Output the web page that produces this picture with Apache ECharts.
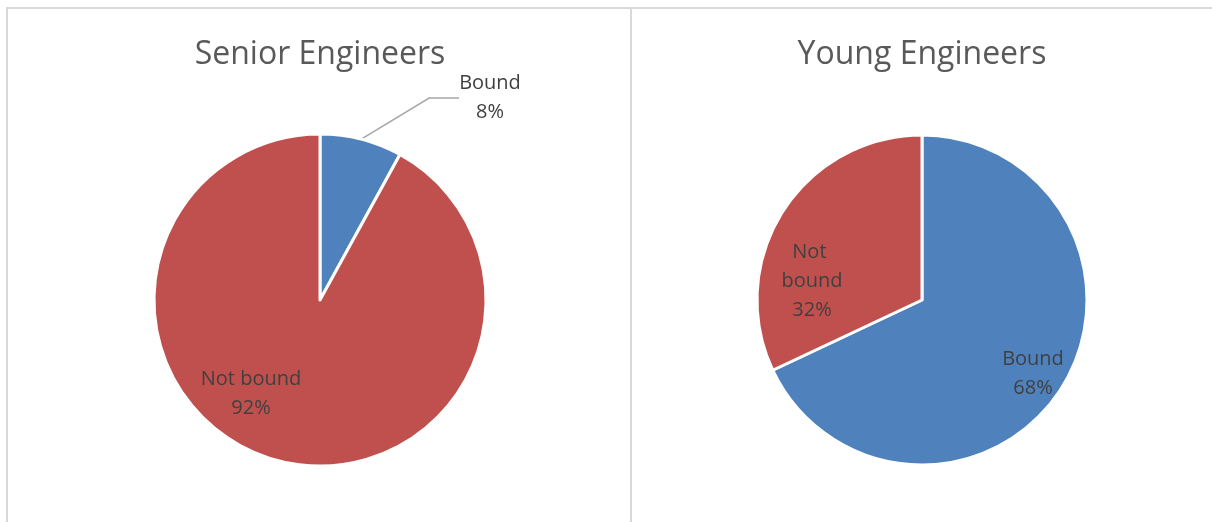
<!DOCTYPE html>
<html>
<head>
<meta charset="utf-8">
<style>
  html, body { margin: 0; padding: 0; background: #fff; }
  #chart { width: 1212px; height: 522px; }
</style>
<script src="https://cdn.jsdelivr.net/npm/echarts@6/dist/echarts.min.js"></script>
</head>
<body>
<div id="chart"></div>
<script>
// data
const categories = ['Bound', 'Not bound'];
const seniorValues = [8, 92];
const youngValues = [68, 32];
const chartTitles = ['Senior Engineers', 'Young Engineers'];
const sliceColors = ['#4F81BD', '#C0504D'];

const FONT = 'Open Sans';

// where Excel put each label (series -> data index -> [x, y])
const labelSpots = [
  [[490, 98], [251, 394]],
  [[1033, 374], [812, 281]]
];

function toData(values) {
  return categories.map((name, i) => ({
    name: name,
    value: values[i],
    itemStyle: { color: sliceColors[i] }
  }));
}

function placeLabel(params) {
  const spot = labelSpots[params.seriesIndex][params.dataIndex];
  return { x: spot[0], y: spot[1], align: 'center', verticalAlign: 'middle' };
}

const titleStyle = { fontFamily: FONT, fontWeight: 'normal', fontSize: 32, color: '#595959' };
const labelStyle = { fontFamily: FONT, fontSize: 20, lineHeight: 29, color: '#404040' };

const chart = echarts.init(document.getElementById('chart'));

chart.setOption({
  backgroundColor: '#fff',
  animation: false,
  title: [
    { text: chartTitles[0], left: 315, top: 34, textAlign: 'center', textStyle: titleStyle },
    { text: chartTitles[1], left: 917, top: 34, textAlign: 'center', textStyle: titleStyle }
  ],
  graphic: [
    { type: 'rect', shape: { x: 7, y: 8, width: 624, height: 540 }, style: { fill: 'none', stroke: '#d9d9d9', lineWidth: 2 }, silent: true },
    { type: 'rect', shape: { x: 631, y: 8, width: 620, height: 540 }, style: { fill: 'none', stroke: '#d9d9d9', lineWidth: 2 }, silent: true }
  ],
  series: [
    {
      name: chartTitles[0],
      type: 'pie',
      center: [320, 300],
      radius: 166,
      startAngle: 90,
      clockwise: true,
      itemStyle: { borderColor: '#fff', borderWidth: 3 },
      label: Object.assign({ position: 'inside', formatter: '{b}\n{d}%' }, labelStyle),
      labelLine: { show: false },
      labelLayout: placeLabel,
      data: toData(seniorValues).map((d, i) => i === 0 ? Object.assign(d, {
        label: { position: 'outside' },
        labelLine: { show: true, lineStyle: { color: '#a6a6a6', width: 1.5 } }
      }) : d)
    },
    {
      name: chartTitles[1],
      type: 'pie',
      center: [922, 300],
      radius: 165,
      startAngle: 90,
      clockwise: true,
      itemStyle: { borderColor: '#fff', borderWidth: 3 },
      label: Object.assign({ position: 'inside', formatter: '{b}\n{d}%', width: 70, overflow: 'break' }, labelStyle),
      labelLine: { show: false },
      labelLayout: placeLabel,
      data: toData(youngValues)
    }
  ]
});
</script>
</body>
</html>
